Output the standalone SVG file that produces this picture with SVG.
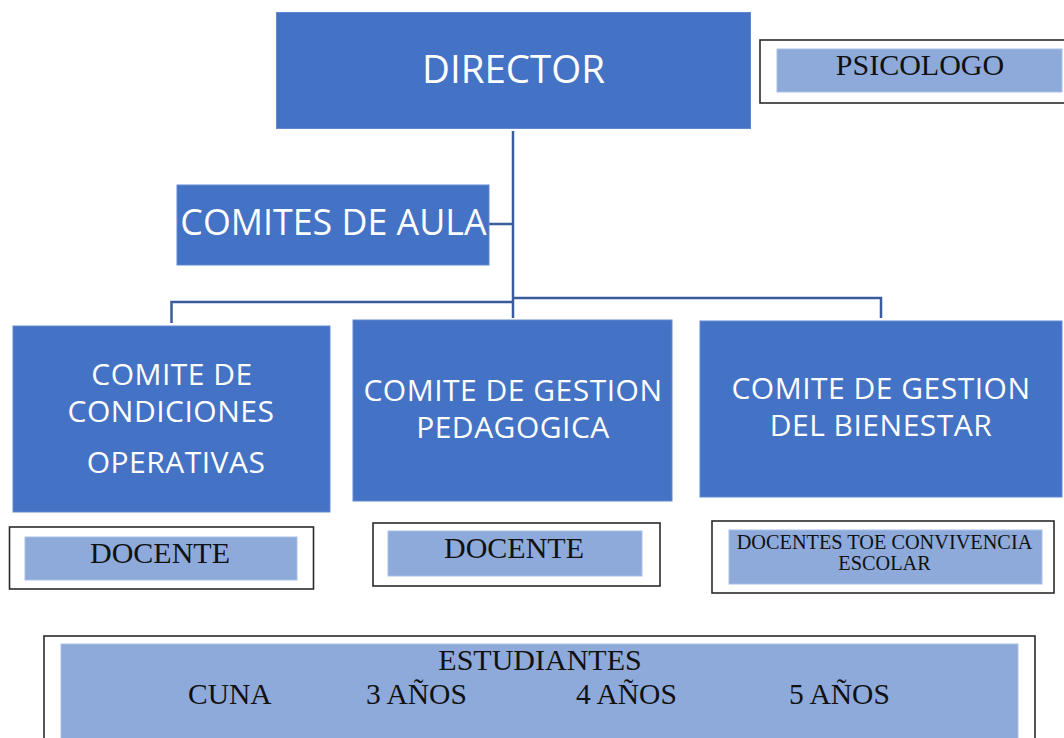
<svg xmlns="http://www.w3.org/2000/svg" width="1064" height="738" viewBox="0 0 1064 738">
<style>
.blue{fill:#4472C4;stroke:#6189D0;stroke-width:1}
.light{fill:#8EAADB;stroke:#A9BFE5;stroke-width:1}
.frame{fill:#FFFFFF;stroke:#2B2B2B;stroke-width:1.6}
.wt{font-family:"Open Sans","Liberation Sans",sans-serif;fill:#FFFFFF;text-anchor:middle}
.cm{font-size:30px;letter-spacing:0.5px}
.bt{font-family:"Liberation Serif","Times New Roman",serif;fill:#111111}
.conn{fill:none;stroke:#3A5C9C;stroke-width:2.5}
</style>
<rect width="1064" height="738" fill="#FFFFFF"/>
<g id="connectors">
<path class="conn" d="M513 131 V318"/>
<path class="conn" d="M489 224 H513"/>
<path class="conn" d="M513 302 H171.5 V323"/>
<path class="conn" d="M513 298 H881 V318"/>
</g>
<g id="director">
<rect class="blue" x="276.5" y="12.5" width="474" height="116"/>
<text class="wt" x="513.5" y="83" font-size="38.5">DIRECTOR</text>
</g>
<g id="psicologo">
<rect class="frame" x="760" y="40" width="320" height="63"/>
<rect class="light" x="777" y="49" width="285" height="43"/>
<text class="bt" x="920" y="75" font-size="30" text-anchor="middle">PSICOLOGO</text>
</g>
<g id="comites-aula">
<rect class="blue" x="177" y="185" width="312" height="80"/>
<text class="wt" x="333.5" y="235" font-size="35.8">COMITES DE AULA</text>
</g>
<g id="comite-condiciones">
<rect class="blue" x="13" y="326" width="317" height="186"/>
<text class="wt cm" x="172" y="384.5">COMITE DE</text>
<text class="wt cm" x="171" y="421.5">CONDICIONES</text>
<text class="wt cm" x="176" y="473">OPERATIVAS</text>
</g>
<g id="comite-pedagogica">
<rect class="blue" x="353" y="320" width="319" height="181"/>
<text class="wt cm" x="513" y="400.5">COMITE DE GESTION</text>
<text class="wt cm" x="513" y="437.5">PEDAGOGICA</text>
</g>
<g id="comite-bienestar">
<rect class="blue" x="700" y="321" width="362" height="176"/>
<text class="wt cm" x="881" y="399">COMITE DE GESTION</text>
<text class="wt cm" x="881" y="436">DEL BIENESTAR</text>
</g>
<g id="docente-1">
<rect class="frame" x="9.5" y="527" width="304" height="62"/>
<rect class="light" x="25" y="537" width="272" height="43"/>
<text class="bt" x="160" y="563" font-size="30" text-anchor="middle">DOCENTE</text>
</g>
<g id="docente-2">
<rect class="frame" x="373" y="523" width="287" height="63"/>
<rect class="light" x="388" y="531" width="254" height="45"/>
<text class="bt" x="514" y="558" font-size="30" text-anchor="middle">DOCENTE</text>
</g>
<g id="docentes-toe">
<rect class="frame" x="712" y="521" width="342" height="72"/>
<rect class="light" x="729" y="530" width="313" height="54"/>
<text class="bt" x="884.5" y="549" font-size="20.3" text-anchor="middle">DOCENTES TOE CONVIVENCIA</text>
<text class="bt" x="884.5" y="570" font-size="20.3" text-anchor="middle">ESCOLAR</text>
</g>
<g id="estudiantes">
<rect class="frame" x="44" y="636" width="991" height="120"/>
<rect class="light" x="61" y="644" width="957" height="100"/>
<text class="bt" x="540" y="670" font-size="30" text-anchor="middle">ESTUDIANTES</text>
<text class="bt" x="188" y="704" font-size="29.5">CUNA</text>
<text class="bt" x="366" y="704" font-size="29.5">3 AÑOS</text>
<text class="bt" x="576" y="704" font-size="29.5">4 AÑOS</text>
<text class="bt" x="789" y="704" font-size="29.5">5 AÑOS</text>
</g>
</svg>
